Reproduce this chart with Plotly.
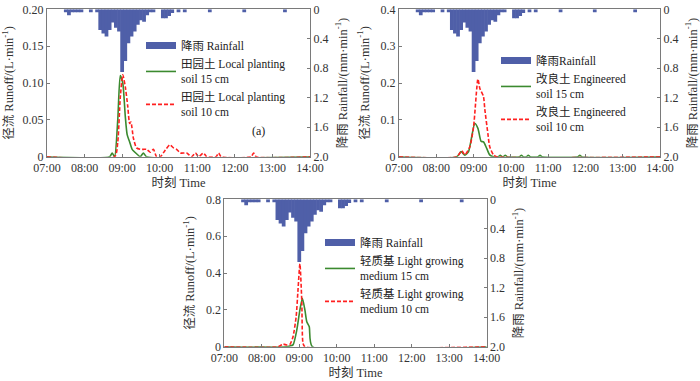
import plotly.graph_objects as go

DAY = "2020-01-01 "

# ---- Rainfall (same for all three panels), mm/min, 5-min bins (bin centre) ----
rain_time = ["07:30", "07:35", "07:40", "07:45", "07:50", "07:55", "08:10",
             "08:20", "08:25", "08:30", "08:35", "08:40", "08:45", "08:50", "08:55",
             "09:00", "09:05", "09:10", "09:15", "09:20", "09:25", "09:30", "09:35",
             "09:40", "09:45", "09:50", "10:05", "10:10", "10:15", "10:20", "10:30",
             "10:40", "11:20", "12:15", "13:20"]
rain_value = [0.04, 0.08, 0.04, 0.04, 0.04, 0.04, 0.04,
              0.04, 0.28, 0.33, 0.37, 0.28, 0.18, 0.25, 0.30,
              0.85, 0.70, 0.46, 0.37, 0.30, 0.21, 0.15, 0.17,
              0.08, 0.04, 0.04, 0.12, 0.12, 0.09, 0.05, 0.04,
              0.04, 0.04, 0.04, 0.04]

# ---- Panel (a): local planting soil ----
a15_time = ["07:00", "08:40", "08:44", "08:48", "08:53", "08:57", "09:01", "09:05",
            "09:08", "09:12", "09:16", "09:23", "09:29", "09:34", "09:39", "14:00"]
a15_value = [0, 0, 0.005, 0, 0.05, 0.110, 0.100, 0.055,
             0.030, 0.020, 0.010, 0.004, 0, 0.005, 0, 0]
a10_time = ["07:00", "08:48", "08:53", "08:57", "09:01", "09:05", "09:09", "09:12",
            "09:14", "09:18", "09:23", "09:29", "09:34", "09:39", "09:45", "09:50",
            "09:55", "10:01", "10:09", "10:16", "10:22", "10:27", "10:33", "10:43",
            "10:51", "10:57", "11:02", "11:10", "11:15", "11:30", "11:34", "11:38",
            "12:26", "12:30", "12:34", "14:00"]
a10_value = [0, 0, 0.02, 0.08, 0.111, 0.095, 0.068, 0.045,
             0.047, 0.025, 0.012, 0.010, 0.010, 0.010, 0.006, 0.010,
             0, 0, 0.009, 0.016, 0.012, 0.010, 0.005, 0.005,
             0, 0.005, 0, 0.005, 0, 0, 0.005, 0,
             0, 0.005, 0, 0]

# ---- Panel (b): engineered soil ----
b15_time = ["07:00", "08:33", "08:40", "08:46", "08:52", "08:55", "09:02", "09:07",
            "09:12", "09:16", "09:21", "09:26", "09:32", "09:40", "09:43", "09:46",
            "09:48", "09:51", "09:54", "10:14", "10:17", "10:20", "10:25", "10:28",
            "10:31", "10:44", "10:47", "10:50", "11:48", "11:51", "11:54", "14:00"]
b15_value = [0, 0, 0.014, 0.004, 0.014, 0.036, 0.090, 0.077,
             0.042, 0.040, 0.023, 0.005, 0, 0, 0.004, 0,
             0, 0.004, 0, 0, 0.004, 0, 0, 0.004,
             0, 0, 0.004, 0, 0, 0.004, 0, 0]
b10_time = ["07:00", "08:33", "08:41", "08:46", "08:54", "09:00", "09:07", "09:10",
            "09:16", "09:18", "09:23", "09:26", "09:32", "09:37", "14:00"]
b10_value = [0, 0, 0.016, 0.005, 0.027, 0.081, 0.211, 0.186,
             0.163, 0.130, 0.063, 0.027, 0.005, 0, 0]

# ---- Panel (c): light growing medium ----
c15_time = ["07:00", "08:40", "08:45", "08:50", "08:56", "09:01", "09:05", "09:09",
            "09:12", "09:16", "09:21", "14:00"]
c15_value = [0, 0, 0.004, 0.010, 0.090, 0.200, 0.263, 0.200,
             0.136, 0.108, 0, 0]
c10_time = ["07:00", "08:26", "08:34", "08:40", "08:45", "08:50", "08:55", "08:58",
            "09:01", "09:04", "09:06", "09:09", "14:00"]
c10_value = [0, 0, 0.014, 0.009, 0.012, 0.054, 0.163, 0.310,
             0.450, 0.250, 0.018, 0, 0]


def full(ts):
    return [DAY + s for s in ts]


FONT = "Liberation Serif, Noto Sans CJK SC, serif"
BLUE = "#4f5fa8"
GREEN = "#3b8a2f"
RED = "#ff2020"
AXC = "#7a7a7a"

panels = [
    dict(x="x", yl="y", yr="y2", legend="legend",
         lines=[(a15_time, a15_value, "田园土 Local planting<br>soil 15 cm"),
                (a10_time, a10_value, "田园土 Local planting<br>soil 10 cm")],
         rain_name="降雨 Rainfall",
         ymax=0.2, ytv=[0, 0.05, 0.10, 0.15, 0.20], ytt=["0", "0.05", "0.10", "0.15", "0.20"]),
    dict(x="x2", yl="y3", yr="y4", legend="legend2",
         lines=[(b15_time, b15_value, "改良土 Engineered<br>soil 15 cm"),
                (b10_time, b10_value, "改良土 Engineered<br>soil 10 cm")],
         rain_name="降雨Rainfall",
         ymax=0.4, ytv=[0, 0.1, 0.2, 0.3, 0.4], ytt=["0", "0.1", "0.2", "0.3", "0.4"]),
    dict(x="x3", yl="y5", yr="y6", legend="legend3",
         lines=[(c15_time, c15_value, "轻质基 Light growing<br>medium 15 cm"),
                (c10_time, c10_value, "轻质基 Light growing<br>medium 10 cm")],
         rain_name="降雨 Rainfall",
         ymax=0.8, ytv=[0, 0.2, 0.4, 0.6, 0.8], ytt=["0", "0.2", "0.4", "0.6", "0.8"]),
]

fig = go.Figure()
for p in panels:
    # rainfall bars on the reversed right axis
    fig.add_trace(go.Bar(x=full(rain_time), y=rain_value, xaxis=p["x"], yaxis=p["yr"],
                         width=360000, marker=dict(color=BLUE, line=dict(width=0)),
                         showlegend=False, hoverinfo="x+y"))
    # legend entry for rainfall (thick line symbol like the original)
    fig.add_trace(go.Scatter(x=[None], y=[None], xaxis=p["x"], yaxis=p["yr"], mode="lines",
                             line=dict(color=BLUE, width=7), name=p["rain_name"],
                             legend=p["legend"], legendrank=1))
    (t15, v15, n15), (t10, v10, n10) = p["lines"]
    fig.add_trace(go.Scatter(x=full(t15), y=v15, xaxis=p["x"], yaxis=p["yl"], mode="lines",
                             line=dict(color=GREEN, width=1.6, shape="spline", smoothing=0.6),
                             name=n15, legend=p["legend"], legendrank=2))
    fig.add_trace(go.Scatter(x=full(t10), y=v10, xaxis=p["x"], yaxis=p["yl"], mode="lines",
                             line=dict(color=RED, width=1.6, dash="4px,2px", shape="spline",
                                       smoothing=0.6),
                             name=n10, legend=p["legend"], legendrank=3))

W, H = 700, 381
dom = {
    "x": [47 / W, 310 / W], "x2": [399 / W, 660 / W], "x3": [224.3 / W, 486.7 / W],
    "ytop": [1 - 156.7 / H, 1 - 9.3 / H], "ybot": [1 - 346.7 / H, 1 - 199.3 / H],
}

tickfont = dict(family=FONT, size=12, color="#333333")
titlefont = dict(family=FONT, size=12.5, color="#333333")


def xaxis(domain, anchor):
    return dict(domain=domain, anchor=anchor, type="date", automargin=False,
                range=[DAY + "07:00", DAY + "14:00"], tickformat="%H:%M", dtick=3600000,
                tick0=DAY + "07:00", showline=True, linecolor=AXC, linewidth=1, mirror=True,
                ticks="inside", ticklen=3, tickcolor=AXC, showgrid=False, zeroline=False,
                tickfont=tickfont, title=dict(text="时刻 Time", font=titlefont, standoff=4))


def yleft(domain, anchor, p):
    return dict(domain=domain, anchor=anchor, range=[0, p["ymax"]], tickvals=p["ytv"],
                automargin=False,
                ticktext=p["ytt"], showline=True, linecolor=AXC, linewidth=1, ticks="inside",
                ticklen=3, tickcolor=AXC, showgrid=False, zeroline=False, tickfont=tickfont,
                title=dict(text="径流 Runoff/(L·min<sup>-1</sup>)", font=titlefont, standoff=8))


def yright(domain, anchor, overlay):
    return dict(domain=domain, anchor=anchor, overlaying=overlay, side="right",
                automargin=False,
                range=[2.0, 0], tickvals=[0, 0.4, 0.8, 1.2, 1.6, 2.0],
                ticktext=["0", "0.4", "0.8", "1.2", "1.6", "2.0"],
                showline=True, linecolor=AXC, linewidth=1, ticks="inside", ticklen=3,
                tickcolor=AXC, showgrid=False, zeroline=False, tickfont=tickfont,
                title=dict(text="降雨 Rainfall/(mm·min<sup>-1</sup>)", font=titlefont, standoff=10))


legend_common = dict(font=dict(family=FONT, size=11.5, color="#222222"), bgcolor="rgba(0,0,0,0)",
                     borderwidth=0, itemwidth=30, tracegroupgap=0, xanchor="left", yanchor="top")

fig.update_layout(
    width=W, height=H, margin=dict(l=0, r=0, t=0, b=0, autoexpand=False),
    paper_bgcolor="white", plot_bgcolor="white", barmode="overlay",
    font=dict(family=FONT, size=12),
    xaxis=xaxis(dom["x"], "y"),
    xaxis2=xaxis(dom["x2"], "y3"),
    xaxis3=xaxis(dom["x3"], "y5"),
    yaxis=yleft(dom["ytop"], "x", panels[0]),
    yaxis2=yright(dom["ytop"], "x", "y"),
    yaxis3=yleft(dom["ytop"], "x2", panels[1]),
    yaxis4=yright(dom["ytop"], "x2", "y3"),
    yaxis5=yleft(dom["ybot"], "x3", panels[2]),
    yaxis6=yright(dom["ybot"], "x3", "y5"),
    legend=dict(x=141 / W, y=1 - 31 / H, **legend_common),
    legend2=dict(x=496 / W, y=1 - 46 / H, **legend_common),
    legend3=dict(x=320 / W, y=1 - 228 / H, **legend_common),
    annotations=[dict(text="(a)", x=258 / W, y=1 - 122 / H, xref="paper", yref="paper",
                      showarrow=False, font=dict(family=FONT, size=12, color="#222222"))],
)

fig.write_html("out.html", config={"displayModeBar": False},
               post_script="document.body.style.margin='0px';")
